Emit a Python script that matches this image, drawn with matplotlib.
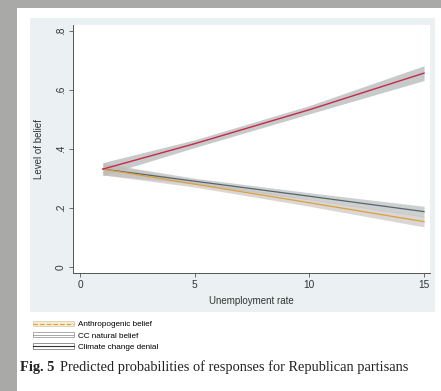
import matplotlib.pyplot as plt
from matplotlib.patches import Rectangle, Patch
from matplotlib.lines import Line2D
import numpy as np

# predicted probabilities by unemployment rate
unemp = [1, 5, 10, 15]
natural = [0.332, 0.418, 0.533, 0.657]
natural_ci = [0.022, 0.013, 0.014, 0.025]
denial = [0.332, 0.291, 0.240, 0.188]
denial_ci = [0.020, 0.010, 0.012, 0.018]
anthro = [0.332, 0.281, 0.218, 0.154]
anthro_ci = [0.020, 0.010, 0.012, 0.018]

labels = ["Anthropogenic belief", "CC natural belief", "Climate change denial"]
xticks = [0, 5, 10, 15]
yticks = [0, 0.2, 0.4, 0.6, 0.8]
ytick_labels = ["0", ".2", ".4", ".6", ".8"]

plt.rcParams["font.family"] = ["Liberation Sans", "DejaVu Sans"]

W, H = 441, 391
fig = plt.figure(figsize=(W / 100, H / 100), dpi=100)
fig.patch.set_facecolor("#a9a9a7")

def px_rect(x0, y0, x1, y1, color, z):
    r = Rectangle((x0 / W, 1 - y1 / H), (x1 - x0) / W, (y1 - y0) / H,
                  transform=fig.transFigure, facecolor=color,
                  edgecolor="none", zorder=z)
    fig.patches.append(r)

px_rect(17, 8, W, H, "white", 0)          # page
px_rect(30, 18, 435, 312, "#ebf1f2", 1)   # graph region

ax = fig.add_axes([73 / W, 1 - 273 / H, 357 / W, 248 / H])
ax.set_facecolor("white")
ax.set_zorder(2)

band = "#b9bdbd"
ax.fill_between(unemp, np.subtract(natural, natural_ci), np.add(natural, natural_ci),
                color=band, alpha=0.8, lw=0)
ax.fill_between(unemp, np.subtract(denial, denial_ci), np.add(denial, denial_ci),
                color=band, alpha=0.7, lw=0)
ax.fill_between(unemp, np.subtract(anthro, anthro_ci), np.add(anthro, anthro_ci),
                color="#c4bcb8", alpha=0.6, lw=0)
ax.plot(unemp, denial, color="#58646a", lw=0.9)
ax.plot(unemp, anthro, color="#d9a23a", lw=0.9)
ax.plot(unemp, natural, color="#c8284a", lw=1.0)

ax.set_xlim(-0.305, 15.26)
ax.set_ylim(-0.02, 0.82)
ax.set_xticks(xticks)
ax.set_xticklabels([str(t) for t in xticks], fontsize=7.3, color="#333333")
ax.set_yticks(yticks)
ax.set_yticklabels(ytick_labels, fontsize=7.3, color="#333333", rotation=90, va="center")
ax.tick_params(length=3, width=0.6, color="#555555", pad=2)
for s in ["top", "right"]:
    ax.spines[s].set_visible(False)
for s in ["left", "bottom"]:
    ax.spines[s].set_color("#555555")
    ax.spines[s].set_linewidth(0.7)
ax.set_xlabel("Unemployment rate", fontsize=7, color="#333333", labelpad=4)
ax.set_ylabel("Level of belief", fontsize=7, color="#333333", labelpad=9)

handles = [
    (Patch(facecolor="#f6ecd2", edgecolor="#d6c8a8", lw=0.5),
     Line2D([], [], color="#d9a23a", lw=0.8, ls=(0, (4, 2)))),
    (Patch(facecolor="white", edgecolor="#8a8a8a", lw=0.5),
     Line2D([], [], color="#9a9a9a", lw=0.6)),
    (Patch(facecolor="white", edgecolor="#6a6a6a", lw=0.5),
     Line2D([], [], color="#333333", lw=0.8)),
]
fig.legend(handles, labels, loc="upper left", bbox_to_anchor=(33 / W, 1 - 321 / H),
           frameon=False, fontsize=5.9, handlelength=5.0, handleheight=0.6,
           labelspacing=0.45, handletextpad=0.5, borderpad=0, borderaxespad=0)

fig.text(20 / W, 1 - 367 / H, "Fig. 5", family="Liberation Serif", weight="bold",
         fontsize=10.4, va="center", color="#222222")
fig.text(60 / W, 1 - 367 / H, "Predicted probabilities of responses for Republican partisans",
         family="Liberation Serif", fontsize=10.4, va="center", color="#222222")

fig.savefig("out.png", dpi=100)
